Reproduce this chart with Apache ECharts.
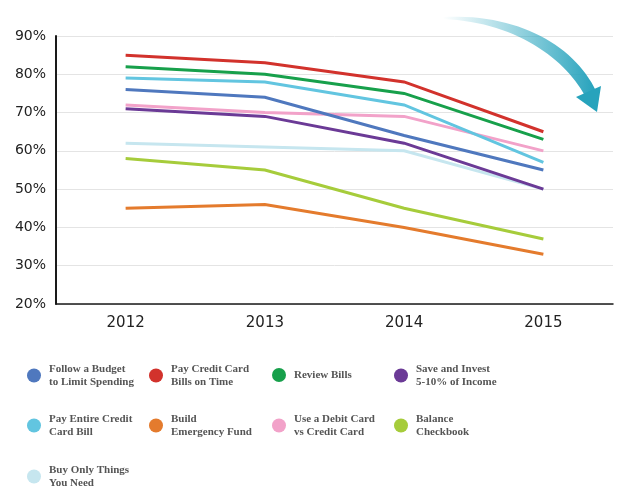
<!DOCTYPE html>
<html>
<head>
<meta charset="utf-8">
<script src="https://cdn.jsdelivr.net/npm/echarts@6/dist/echarts.min.js"></script>
<style>
html,body{margin:0;padding:0;background:#fff;}
#chart{width:632px;height:503px;}
</style>
</head>
<body>
<div id="chart"></div>
<script>
// ---- data ----
const years = ['2012', '2013', '2014', '2015'];
const yTicks = [20, 30, 40, 50, 60, 70, 80, 90];

const followBudget  = [76, 74, 64, 55];
const payOnTime     = [85, 83, 78, 65];
const reviewBills   = [82, 80, 75, 63];
const saveInvest    = [71, 69, 62, 50];
const payEntire     = [79, 78, 72, 57];
const emergencyFund = [45, 46, 40, 33];
const debitCard     = [72, 70, 69, 60];
const checkbook     = [58, 55, 45, 37];
const buyNeed       = [62, 61, 60, 50];

const seriesNames = [
  'Follow a Budget to Limit Spending',
  'Pay Credit Card Bills on Time',
  'Review Bills',
  'Save and Invest 5-10% of Income',
  'Pay Entire Credit Card Bill',
  'Build Emergency Fund',
  'Use a Debit Card vs Credit Card',
  'Balance Checkbook',
  'Buy Only Things You Need'
];
const legendLabels = [
  'Follow a Budget\nto Limit Spending',
  'Pay Credit Card\nBills on Time',
  'Review Bills',
  'Save and Invest\n5-10% of Income',
  'Pay Entire Credit\nCard Bill',
  'Build\nEmergency Fund',
  'Use a Debit Card\nvs Credit Card',
  'Balance\nCheckbook',
  'Buy Only Things\nYou Need'
];
const seriesValues = [followBudget, payOnTime, reviewBills, saveInvest, payEntire,
                      emergencyFund, debitCard, checkbook, buyNeed];

// ---- styles ----
const colors = ['#4f78be', '#d2322c', '#17a04b', '#6b3a96', '#62c5e0',
                '#e47b2d', '#f2a2c9', '#a6cc3b', '#c6e6ef'];
const zOrder = [6, 9, 8, 5, 7, 3, 4, 3, 2];
const legendPos = [
  [27, 362], [149, 362], [272, 368], [394, 362],
  [27, 412], [149, 412], [272, 412], [394, 412],
  [27, 463]
];

// decorative arrow outline (sampled cubic bezier curves)
function bez(p0, p1, p2, p3, n) {
  const pts = [];
  for (let k = 0; k <= n; k++) {
    const t = k / n, u = 1 - t;
    pts.push([
      u*u*u*p0[0] + 3*u*u*t*p1[0] + 3*u*t*t*p2[0] + t*t*t*p3[0],
      u*u*u*p0[1] + 3*u*u*t*p1[1] + 3*u*t*t*p2[1] + t*t*t*p3[1]
    ]);
  }
  return pts;
}
const outer = bez([443, 17], [520, 13], [575, 47], [596, 91], 30);
const inner = bez([585, 96], [565, 59], [516, 22], [443, 19], 30);
const arrowBody = outer.concat(inner);

const chart = echarts.init(document.getElementById('chart'), null, {renderer: 'canvas'});

const series = seriesNames.map((n, i) => ({
  name: n,
  type: 'line',
  data: seriesValues[i],
  showSymbol: false,
  symbol: 'none',
  z: zOrder[i],
  lineStyle: {color: colors[i], width: 3, join: 'miter'},
  itemStyle: {color: colors[i]},
  emphasis: {disabled: true}
}));

const legends = seriesNames.map((n, i) => ({
  data: [{name: n, icon: 'circle'}],
  left: legendPos[i][0],
  top: legendPos[i][1],
  padding: 0,
  itemWidth: 14,
  itemHeight: 14,
  selectedMode: false,
  formatter: () => legendLabels[i],
  textStyle: {
    fontFamily: 'Liberation Serif',
    fontWeight: 'bold',
    fontSize: 11,
    lineHeight: 13.5,
    color: '#555555',
    padding: [0, 0, 0, 3]
  }
}));

const option = {
  backgroundColor: '#ffffff',
  animation: false,
  color: colors,
  legend: legends,
  grid: {left: 56, right: 19, top: 36, bottom: 199, containLabel: false},
  xAxis: {
    type: 'category',
    data: years,
    boundaryGap: true,
    axisLine: {show: true, lineStyle: {color: '#1a1a1a', width: 1.5}},
    axisTick: {show: false},
    axisLabel: {color: '#222', fontFamily: 'DejaVu Sans', fontSize: 15, margin: 12},
    splitLine: {show: false}
  },
  yAxis: {
    type: 'value',
    min: yTicks[0],
    max: yTicks[yTicks.length - 1],
    interval: 10,
    axisLine: {show: true, lineStyle: {color: '#1a1a1a', width: 2}},
    axisTick: {show: false},
    axisLabel: {color: '#222', fontFamily: 'DejaVu Sans', fontSize: 14, margin: 10,
                formatter: '{value}%'},
    splitLine: {show: true, lineStyle: {color: '#e4e4e4', width: 1}}
  },
  series: series,
  graphic: [
    {
      type: 'polygon',
      z: 20,
      shape: {points: arrowBody},
      style: {
        fill: {
          type: 'linear', x: 0, y: 0, x2: 1, y2: 0,
          colorStops: [
            {offset: 0, color: 'rgba(42,166,191,0)'},
            {offset: 0.45, color: 'rgba(42,166,191,0.45)'},
            {offset: 1, color: 'rgba(38,162,188,1)'}
          ]
        }
      }
    },
    {
      type: 'polygon',
      z: 21,
      shape: {points: [[576, 97], [601, 86], [597, 112]]},
      style: {fill: '#27a3bc'}
    }
  ]
};

chart.setOption(option);
</script>
</body>
</html>
